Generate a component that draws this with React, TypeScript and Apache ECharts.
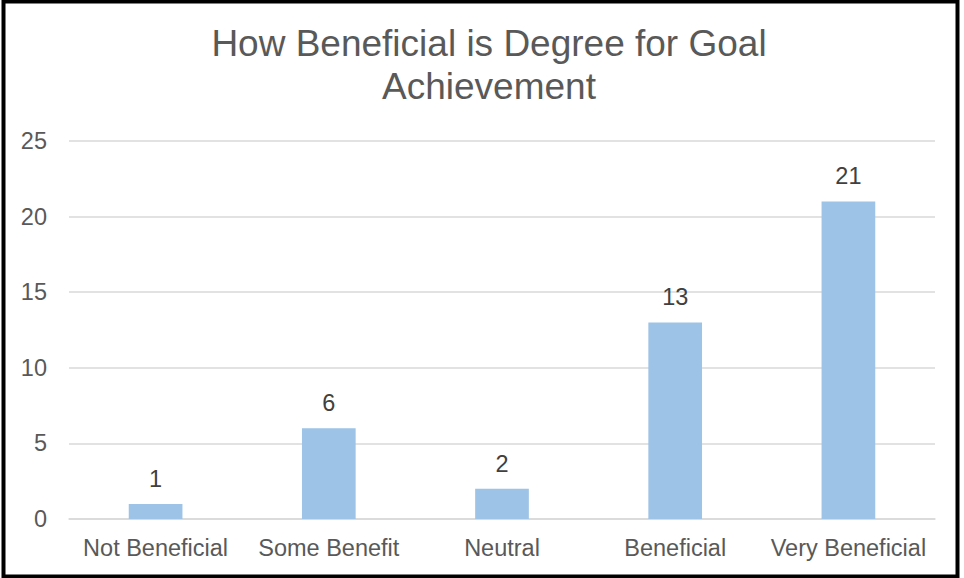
import React, { useEffect, useRef } from "react";
import * as echarts from "echarts";

const categories = ["Not Beneficial", "Some Benefit", "Neutral", "Beneficial", "Very Beneficial"];
const counts = [1, 6, 2, 13, 21];
const titleText = "How Beneficial is Degree for Goal\nAchievement";

export default function App() {
  const ref = useRef<HTMLDivElement>(null);
  useEffect(() => {
    document.body.style.margin = "0";
    const chart = echarts.init(ref.current!, null, { renderer: "svg" });
    const font = "'Liberation Sans', Arial, sans-serif";
    chart.setOption({
      animation: false,
      backgroundColor: "#ffffff",
      title: {
        text: titleText,
        left: 484,
        textAlign: "center",
        top: 17,
        textStyle: {
          fontFamily: font,
          fontSize: 37,
          fontWeight: "normal",
          color: "#595959",
          lineHeight: 43,
        },
      },
      grid: { left: 69, right: 29, top: 141, bottom: 59 },
      xAxis: {
        type: "category",
        data: categories,
        axisLine: { lineStyle: { color: "#D9D9D9", width: 1.5 } },
        axisTick: { show: false },
        axisLabel: { fontFamily: font, fontSize: 23.5, color: "#595959", margin: 17, interval: 0 },
      },
      yAxis: {
        type: "value",
        min: 0,
        max: 25,
        interval: 5,
        axisLine: { show: false },
        axisTick: { show: false },
        splitLine: { lineStyle: { color: "#D9D9D9", width: 1.5 } },
        axisLabel: { fontFamily: font, fontSize: 23.5, color: "#595959", margin: 22 },
      },
      series: [
        {
          type: "bar",
          data: counts,
          barWidth: "31%",
          itemStyle: { color: "#9DC3E6" },
          label: {
            show: true,
            position: "top",
            distance: 13,
            fontFamily: font,
            fontSize: 23.5,
            color: "#404040",
          },
        },
      ],
      graphic: [
        {
          type: "rect",
          shape: { x: 3.5, y: 1.5, width: 954, height: 575 },
          style: { fill: "none", stroke: "#000000", lineWidth: 4 },
          z: 100,
        },
      ],
    });
    return () => chart.dispose();
  }, []);
  return <div ref={ref} style={{ width: 964, height: 578 }} />;
}
